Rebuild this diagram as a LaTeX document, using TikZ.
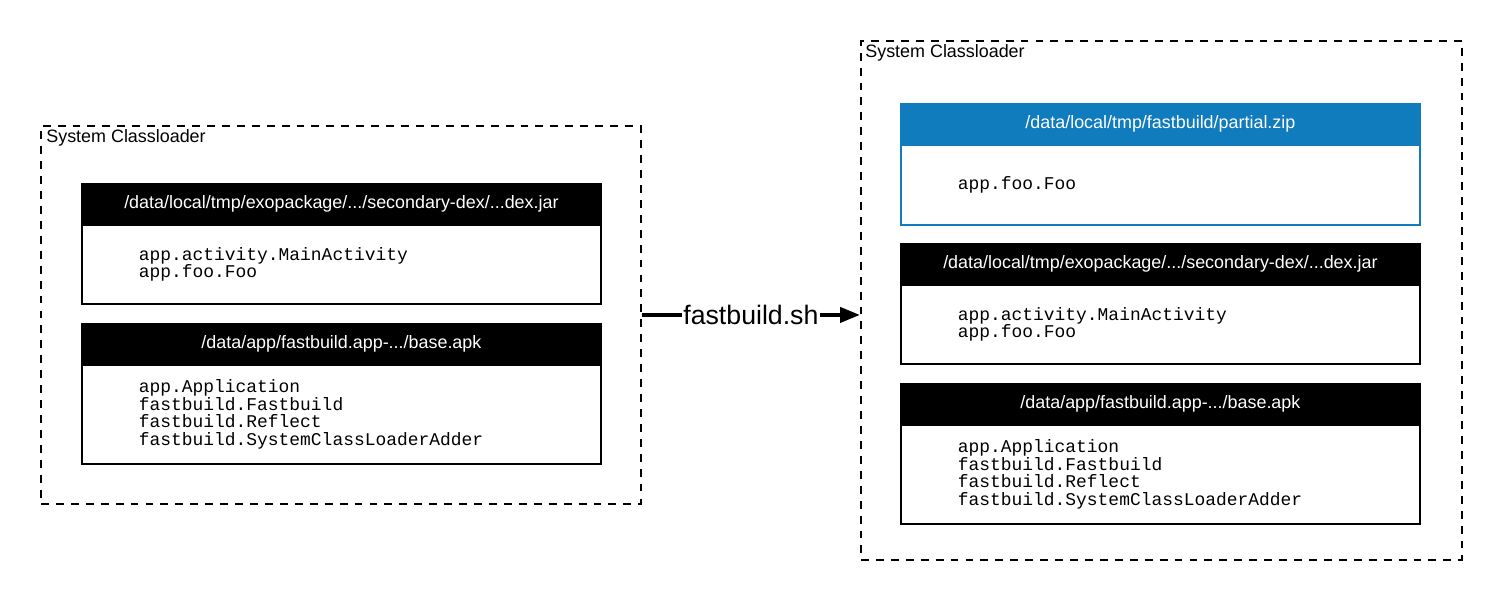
\documentclass[tikz,border=0pt]{standalone}
\usepackage{fontspec}
\setmainfont{Liberation Sans}
\setmonofont{Liberation Mono}
\usetikzlibrary{arrows.meta}
\definecolor{zipblue}{RGB}{16,124,189}

\begin{document}
\begin{tikzpicture}[x=0.02cm, y=-0.02cm,
	loader/.style={draw, line width=1.1pt, dash pattern=on 4.5pt off 4pt, anchor=north west, inner sep=0pt},
	hdr/.style={draw, fill=black, text=white, line width=1.1pt, minimum width=10.38cm, minimum height=0.78cm, anchor=north west, inner sep=0pt, font=\fontsize{10.2pt}{12pt}\selectfont},
	cls/.style={draw, line width=1.1pt, minimum width=10.38cm, anchor=north, text width=8.1cm, inner xsep=1.14cm, inner ysep=0pt, align=left, font=\ttfamily\fontsize{10.2pt}{10.2pt}\selectfont},
	title/.style={anchor=north west, inner sep=0pt, font=\fontsize{10.2pt}{12pt}\selectfont}]
			%%%%% START %%%%%
			\useasboundingbox (0,0) rectangle (1502,600);
			
			%%%%% before
			\node[loader, minimum width=12cm, minimum height=7.56cm] (oldsys) at (40,125) {};
			\node[title] (oldtitle) at (46,129) {System Classloader};
			
			\node[hdr] (olddexh) at (81,183) {/data/local/tmp/exopackage/.../secondary-dex/...dex.jar};
			\node[cls, minimum height=1.58cm] (olddex) at (olddexh.south) {app.activity.MainActivity\\app.foo.Foo};
			
			\node[hdr] (oldapkh) at (81,323) {/data/app/fastbuild.app-.../base.apk};
			\node[cls, minimum height=1.98cm] (oldapk) at (oldapkh.south) {app.Application\\fastbuild.Fastbuild\\fastbuild.Reflect\\fastbuild.SystemClassLoaderAdder};
			
			%%%%% after
			\node[loader, minimum width=12.02cm, minimum height=10.38cm] (newsys) at (860,40) {};
			\node[title] (newtitle) at (865,44) {System Classloader};
			
			\node[hdr, fill=zipblue, draw=zipblue] (zipzh) at (900,103) {/data/local/tmp/fastbuild/partial.zip};
			\node[cls, draw=zipblue, minimum height=1.6cm] (zipz) at (zipzh.south) {app.foo.Foo};
			
			\node[hdr] (newdexh) at (900,243) {/data/local/tmp/exopackage/.../secondary-dex/...dex.jar};
			\node[cls, minimum height=1.58cm] (newdex) at (newdexh.south) {app.activity.MainActivity\\app.foo.Foo};
			
			\node[hdr] (newapkh) at (900,383) {/data/app/fastbuild.app-.../base.apk};
			\node[cls, minimum height=1.98cm] (newapk) at (newapkh.south) {app.Application\\fastbuild.Fastbuild\\fastbuild.Reflect\\fastbuild.SystemClassLoaderAdder};
			
			%%%%% script
			\draw[line width=2.3pt, -{Triangle[length=0.4cm, width=0.3cm]}] (oldsys.east) -- node[fill=white, inner xsep=1pt, inner ysep=2pt, font=\fontsize{15.2pt}{17pt}\selectfont] {fastbuild.sh} (oldsys.east -| newsys.west);
			
			%%%%% END %%%%%
\end{tikzpicture}
\end{document}
